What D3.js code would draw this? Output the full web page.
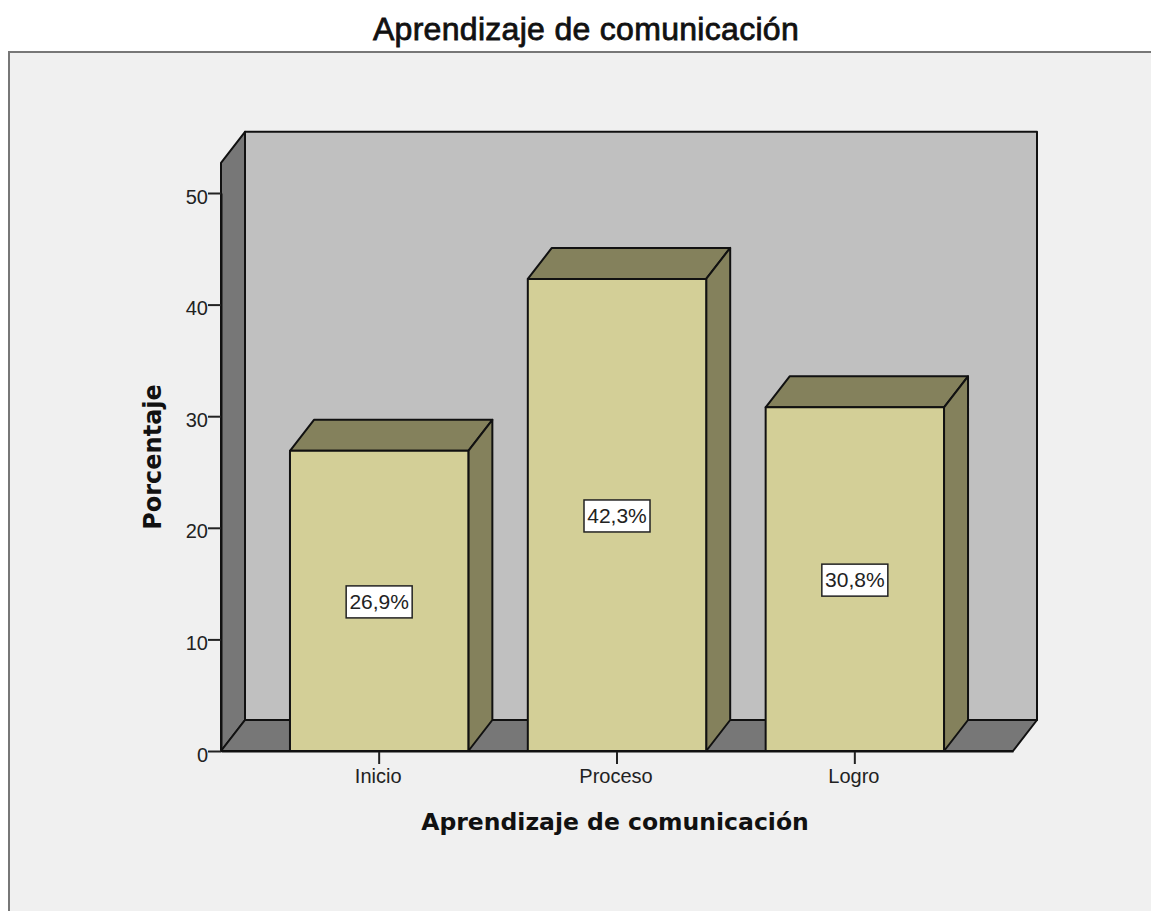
<!DOCTYPE html>
<html>
<head>
<meta charset="utf-8">
<script src="https://cdn.jsdelivr.net/npm/d3@7"></script>
<style>
  html, body { margin: 0; padding: 0; background: #fff; }
  svg { display: block; }
  .tick text { font-family: "Liberation Sans", sans-serif; font-size: 20px; fill: #222; }
</style>
</head>
<body>
<div id="chart"></div>
<script>
var categories = ["Inicio", "Proceso", "Logro"];
var percents = [26.9, 42.3, 30.8];
var yTicks = [0, 10, 20, 30, 40, 50];
var chartTitle = "Aprendizaje de comunicación";
var yTitle = "Porcentaje";

var width = 1151, height = 911;
var depth = { x: 24, y: 31 };

var svg = d3.select("#chart").append("svg")
    .attr("width", width)
    .attr("height", height);

// outer panel, only top and left edges are visible
svg.append("rect")
    .attr("x", 9).attr("y", 52)
    .attr("width", width).attr("height", height)
    .attr("fill", "#f0f0f0")
    .attr("stroke", "#777")
    .attr("stroke-width", 2);

var x = d3.scaleBand()
    .domain(categories)
    .range([221, 1013])
    .paddingInner(0.25)
    .paddingOuter(0.29);

var y = d3.scaleLinear()
    .domain([0, 50])
    .range([751, 193]);

var yTop = y(52.7);
var xLeft = x.range()[0], xRight = x.range()[1], y0 = y(0);

function poly(points, fill) {
    svg.append("polygon")
        .attr("points", points.map(function(p) { return p.join(","); }).join(" "))
        .attr("fill", fill)
        .attr("stroke", "#111")
        .attr("stroke-width", 2)
        .attr("stroke-linejoin", "round");
}

// back wall
poly([[xLeft + depth.x, yTop - depth.y], [xRight + depth.x, yTop - depth.y],
      [xRight + depth.x, y0 - depth.y], [xLeft + depth.x, y0 - depth.y]], "#c0c0c0");
// left wall
poly([[xLeft, yTop], [xLeft + depth.x, yTop - depth.y],
      [xLeft + depth.x, y0 - depth.y], [xLeft, y0]], "#777777");
// floor
poly([[xLeft, y0], [xLeft + depth.x, y0 - depth.y],
      [xRight + depth.x, y0 - depth.y], [xRight, y0]], "#777777");

// axes
var y_axis = d3.axisLeft(y).tickValues(yTicks).tickFormat(d3.format("d")).tickSize(13).tickSizeOuter(0);
svg.append("g")
    .attr("class", "yaxis")
    .attr("transform", "translate(" + xLeft + ",0)")
    .call(y_axis)
    .call(function(g) {
        g.select(".domain").attr("stroke", "#111").attr("stroke-width", 2);
        g.selectAll(".tick line").attr("stroke", "#222").attr("stroke-width", 2);
        g.selectAll(".tick text").attr("x", -13).attr("dy", "0.5em");
    });

var x_axis = d3.axisBottom(x).tickSize(13).tickSizeOuter(0);
svg.append("g")
    .attr("class", "axis")
    .attr("transform", "translate(0," + y0 + ")")
    .call(x_axis)
    .call(function(g) {
        g.select(".domain").attr("stroke", "#111").attr("stroke-width", 2);
        g.selectAll(".tick line").attr("stroke", "#222").attr("stroke-width", 2);
        g.selectAll(".tick text").attr("y", 18).attr("dx", -1);
    });

// bars
categories.forEach(function(c, i) {
    var bx = x(c), bw = x.bandwidth(), by = y(percents[i]);
    poly([[bx, by], [bx + depth.x, by - depth.y], [bx + bw + depth.x, by - depth.y], [bx + bw, by]], "#84815c");
    poly([[bx + bw, by], [bx + bw + depth.x, by - depth.y], [bx + bw + depth.x, y0 - depth.y], [bx + bw, y0]], "#84815c");
    poly([[bx, by], [bx + bw, by], [bx + bw, y0], [bx, y0]], "#d3cf97");
});

// value labels
categories.forEach(function(c, i) {
    var cx = x(c) + x.bandwidth() / 2, cy = y(percents[i] / 2);
    svg.append("rect")
        .attr("x", cx - 33).attr("y", cy - 15)
        .attr("width", 66).attr("height", 32)
        .attr("fill", "#fff")
        .attr("stroke", "#222")
        .attr("stroke-width", 1.5);
    svg.append("text")
        .attr("x", cx).attr("y", cy + 8)
        .attr("text-anchor", "middle")
        .attr("font-family", "Liberation Sans, sans-serif")
        .attr("font-size", 21)
        .attr("fill", "#222")
        .text(percents[i].toFixed(1).replace(".", ",") + "%");
});

// titles
svg.append("text")
    .attr("x", 586).attr("y", 40)
    .attr("text-anchor", "middle")
    .attr("font-family", "Liberation Sans, sans-serif")
    .attr("font-size", 32)
    .attr("letter-spacing", 0.3)
    .attr("stroke", "#111").attr("stroke-width", 0.8)
    .attr("fill", "#111")
    .text(chartTitle);

svg.append("text")
    .attr("x", 615).attr("y", 830)
    .attr("text-anchor", "middle")
    .attr("font-family", "DejaVu Sans, sans-serif")
    .attr("font-weight", "bold")
    .attr("font-size", 23.5)
    .attr("fill", "#111")
    .text(chartTitle);

svg.append("text")
    .attr("transform", "translate(161,457) rotate(-90)")
    .attr("text-anchor", "middle")
    .attr("font-family", "DejaVu Sans, sans-serif")
    .attr("font-weight", "bold")
    .attr("font-size", 24)
    .attr("fill", "#111")
    .text(yTitle);
</script>
</body>
</html>
